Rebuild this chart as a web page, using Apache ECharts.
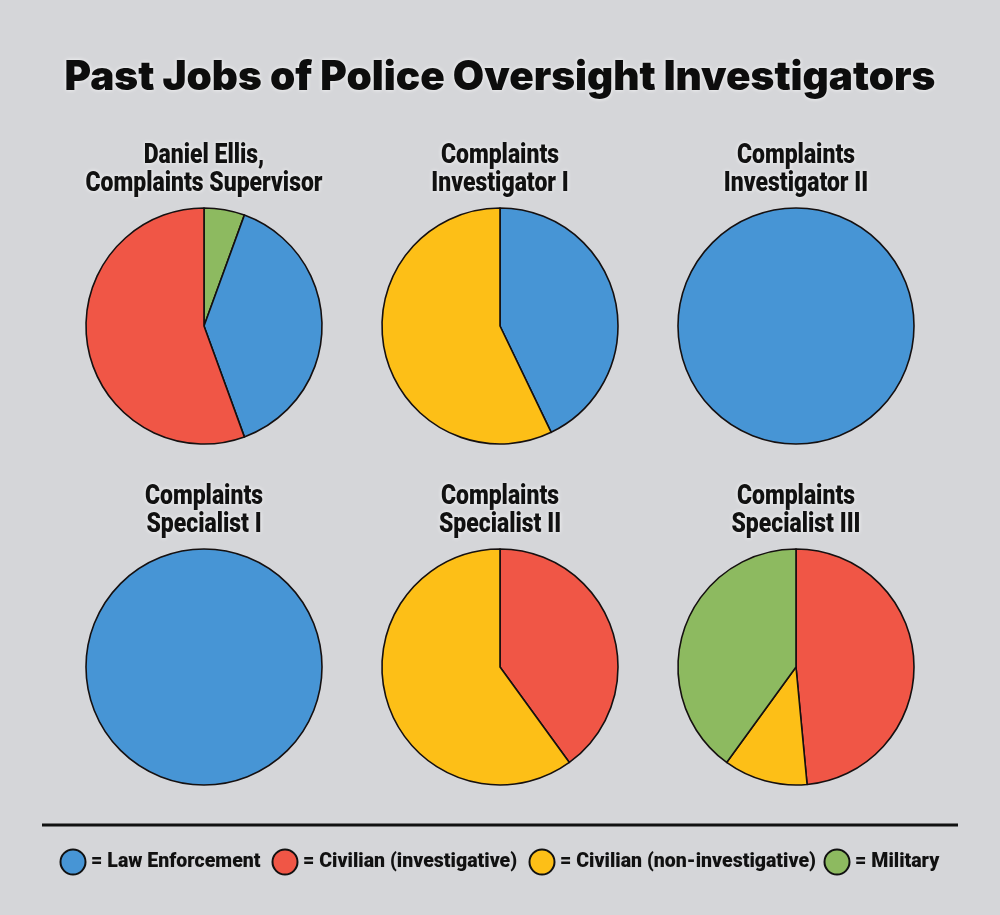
<!DOCTYPE html>
<html>
<head>
<meta charset="utf-8">
<script src="https://cdn.jsdelivr.net/npm/echarts@6/dist/echarts.min.js"></script>
<style>
html,body{margin:0;padding:0;background:#d5d6d9;}
#c{width:1000px;height:915px;}
</style>
</head>
<body>
<div id="c"></div>
<script>
const chartTitle = 'Past Jobs of Police Oversight Investigators';
const categories = ['Law Enforcement', 'Civilian (investigative)', 'Civilian (non-investigative)', 'Military'];
const categoryColors = ['#4795d5', '#f05646', '#fdbf17', '#8dba60'];

const pieTitles = [
  'Daniel Ellis,\nComplaints Supervisor',
  'Complaints\nInvestigator I',
  'Complaints\nInvestigator II',
  'Complaints\nSpecialist I',
  'Complaints\nSpecialist II',
  'Complaints\nSpecialist III'
];
// slices in clockwise order from 12 o'clock: [category, value]
const pie1 = [['Military', 1], ['Law Enforcement', 7], ['Civilian (investigative)', 10]];
const pie2 = [['Law Enforcement', 3], ['Civilian (non-investigative)', 4]];
const pie3 = [['Law Enforcement', 1]];
const pie4 = [['Law Enforcement', 1]];
const pie5 = [['Civilian (investigative)', 2], ['Civilian (non-investigative)', 3]];
const pie6 = [['Civilian (investigative)', 48.5], ['Civilian (non-investigative)', 11.5], ['Military', 40]];
const pies = [pie1, pie2, pie3, pie4, pie5, pie6];

const centers = [[204, 326], [500, 326], [796, 326], [204, 667], [500, 667], [796, 667]];
const radius = 118;
const legendX = [73, 285, 542, 837];

const colorOf = n => categoryColors[categories.indexOf(n)];

const series = pies.map((p, i) => ({
  type: 'pie',
  center: centers[i],
  radius: radius,
  startAngle: 90,
  clockwise: true,
  animation: false,
  silent: true,
  label: { show: false },
  labelLine: { show: false },
  emphasis: { disabled: true },
  itemStyle: { borderColor: '#151010', borderWidth: 1.6 },
  data: p.map(d => ({ name: d[0], value: d[1], itemStyle: { color: colorOf(d[0]) } }))
}));

const glow = { textShadowColor: 'rgba(255,255,255,0.9)', textShadowBlur: 4 };

const graphics = [
  {
    type: 'text', x: 500, y: 78,
    style: Object.assign({
      text: chartTitle, fill: '#0d0d0d',
      font: '900 40.5px Inter', textAlign: 'center', textVerticalAlign: 'middle'
    }, glow)
  },
  {
    type: 'line', shape: { x1: 42, y1: 825, x2: 958, y2: 825 },
    style: { stroke: '#111', lineWidth: 3 }
  }
];
pieTitles.forEach((t, i) => {
  graphics.push({
    type: 'text', x: centers[i][0], y: centers[i][1] - 184,
    scaleX: 0.82,
    style: Object.assign({
      text: t, fill: '#111',
      font: '900 28px Roboto', lineHeight: 28,
      textAlign: 'center', textVerticalAlign: 'top'
    }, glow)
  });
});
categories.forEach((c, i) => {
  graphics.push({
    type: 'circle', shape: { cx: legendX[i], cy: 862, r: 12.5 },
    style: { fill: categoryColors[i], stroke: '#111', lineWidth: 2 }
  });
  graphics.push({
    type: 'text', x: legendX[i] + 18, y: 862, scaleX: 0.93,
    style: {
      text: '= ' + c, fill: '#111',
      font: '900 21px Roboto', textAlign: 'left', textVerticalAlign: 'middle'
    }
  });
});

const chart = echarts.init(document.getElementById('c'), null, { renderer: 'canvas' });
chart.setOption({
  backgroundColor: '#d5d6d9',
  animation: false,
  graphic: graphics,
  series: series
});
</script>
</body>
</html>
